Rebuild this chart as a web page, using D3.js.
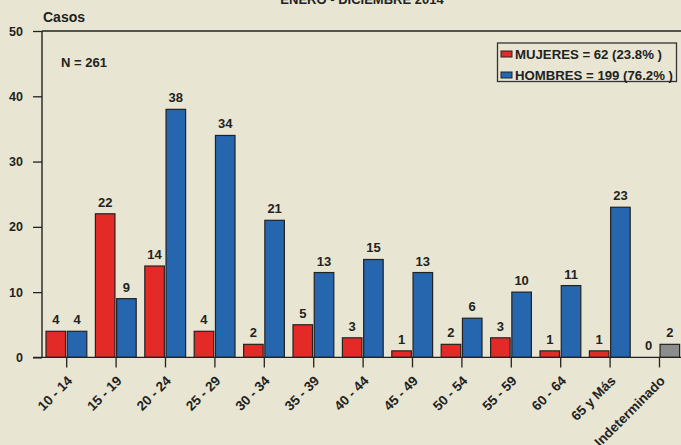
<!DOCTYPE html>
<html>
<head>
<meta charset="utf-8">
<script src="https://cdn.jsdelivr.net/npm/d3@7"></script>
<style>
  body { margin: 0; background: #e8e6d3; }
  svg { display: block; font-family: "Liberation Sans", Arial, sans-serif; }
</style>
</head>
<body>
<svg id="chart"></svg>
<script>
var WIDTH = 681, HEIGHT = 445;

var grupos = ["10 - 14", "15 - 19", "20 - 24", "25 - 29", "30 - 34", "35 - 39",
  "40 - 44", "45 - 49", "50 - 54", "55 - 59", "60 - 64", "65 y Más", "Indeterminado"];
var mujeres = [4, 22, 14, 4, 2, 5, 3, 1, 2, 3, 1, 1, 0];
var hombres = [4, 9, 38, 34, 21, 13, 15, 13, 6, 10, 11, 23, null];
var indeterminado = [null, null, null, null, null, null, null, null, null, null, null, null, 2];
var yTicks = [0, 10, 20, 30, 40, 50];
var leyenda = ["MUJERES = 62 (23.8% )", "HOMBRES = 199 (76.2% )"];
var colores = {m: "#e32a26", h: "#2566ae", i: "#8c8c8c"};

var svg = d3.select("#chart").attr("width", WIDTH).attr("height", HEIGHT);

var x = d3.scaleBand().domain(grupos).range([42, 42 + 13 * 49.4]);
var sub = d3.scaleBand().domain(["m", "h"]).range([4, 44.8]).paddingInner(0.08);
var y = d3.scaleLinear().domain([0, 50]).range([357.4, 31]);

// title (cut off at top)
svg.append("text").attr("x", 362).attr("y", 4).attr("text-anchor", "middle")
  .attr("font-weight", "bold").attr("font-size", 13).attr("fill", "#222")
  .text("ENERO - DICIEMBRE 2014");

svg.append("text").attr("x", 43).attr("y", 22)
  .attr("font-weight", "bold").attr("font-size", 14).attr("fill", "#222")
  .text("Casos");

// bars
var filas = grupos.map(function(g, i) {
  return [
    {g: g, k: "m", v: mujeres[i], c: colores.m},
    {g: g, k: "h", v: hombres[i] != null ? hombres[i] : indeterminado[i], c: hombres[i] != null ? colores.h : colores.i}
  ];
});
var datos = d3.merge(filas);

svg.append("g").selectAll("rect")
  .data(datos.filter(function(d) { return d.v > 0; }))
  .enter().append("rect")
  .attr("x", function(d) { return x(d.g) + sub(d.k); })
  .attr("width", sub.bandwidth())
  .attr("y", function(d) { return y(d.v); })
  .attr("height", function(d) { return y(0) - y(d.v); })
  .attr("fill", function(d) { return d.c; })
  .attr("stroke", "#222").attr("stroke-width", 1.2);

svg.append("g").selectAll("text")
  .data(datos.filter(function(d) { return d.v != null; }))
  .enter().append("text")
  .attr("x", function(d) { return x(d.g) + sub(d.k) + sub.bandwidth() / 2; })
  .attr("y", function(d) { return y(d.v) - 7; })
  .attr("text-anchor", "middle").attr("font-weight", "bold").attr("font-size", 13)
  .attr("fill", "#222")
  .text(function(d) { return d.v; });

// axes
var yAxis = svg.append("g").attr("transform", "translate(42,0)")
  .call(d3.axisLeft(y).tickValues(yTicks).tickSize(9).tickPadding(10));
yAxis.select(".domain").remove();
yAxis.selectAll("line").attr("stroke", "#222").attr("stroke-width", 1.3);
yAxis.selectAll("text").attr("font-size", 12.5).attr("font-weight", "bold")
  .attr("fill", "#222").attr("font-family", "Liberation Sans, Arial, sans-serif");

svg.append("line").attr("x1", 42).attr("x2", 42).attr("y1", y(50)).attr("y2", y(0))
  .attr("stroke", "#222").attr("stroke-width", 1.4);
svg.append("line").attr("x1", 42).attr("x2", WIDTH).attr("y1", y(50)).attr("y2", y(50))
  .attr("stroke", "#222").attr("stroke-width", 1.4);
svg.append("line").attr("x1", 33).attr("x2", WIDTH).attr("y1", y(0)).attr("y2", y(0))
  .attr("stroke", "#222").attr("stroke-width", 1.4);

var xAxis = svg.append("g").attr("transform", "translate(0," + y(0) + ")")
  .call(d3.axisBottom(x).tickSize(10).tickPadding(4));
xAxis.select(".domain").remove();
xAxis.selectAll("line").attr("stroke", "#222").attr("stroke-width", 1.3);
xAxis.selectAll("text")
  .attr("font-size", 13.5).attr("font-weight", "bold").attr("fill", "#222")
  .attr("font-family", "Liberation Sans, Arial, sans-serif")
  .attr("text-anchor", "end")
  .attr("dy", "0.35em")
  .attr("transform", "translate(3,21) rotate(-45)")
  .attr("y", 0).attr("x", 0);

// N
svg.append("text").attr("x", 61).attr("y", 67)
  .attr("font-weight", "bold").attr("font-size", 13).attr("fill", "#222")
  .text("N = 261");

// legend
var lg = svg.append("g");
lg.append("rect").attr("x", 497.5).attr("y", 43).attr("width", 179).attr("height", 38.5)
  .attr("fill", "none").attr("stroke", "#333").attr("stroke-width", 1.3);
lg.selectAll("g.item").data(leyenda).enter().append("g")
  .each(function(d, i) {
    var gg = d3.select(this);
    gg.append("rect").attr("x", 501).attr("y", 51 + i * 21).attr("width", 11).attr("height", 6)
      .attr("fill", i === 0 ? colores.m : colores.h).attr("stroke", "#222").attr("stroke-width", 1);
    gg.append("text").attr("x", 515).attr("y", 58.5 + i * 21)
      .attr("font-weight", "bold").attr("font-size", 13.2).attr("fill", "#222").text(d);
  });

// footnote (cut off)
svg.append("text").attr("x", 10).attr("y", 452.5)
  .attr("font-weight", "bold").attr("font-style", "italic").attr("font-size", 11)
  .attr("fill", "#1f1f66")
  .text("(*)El dato de sexo se encuentra en evaluación por la investigación");
</script>
</body>
</html>
